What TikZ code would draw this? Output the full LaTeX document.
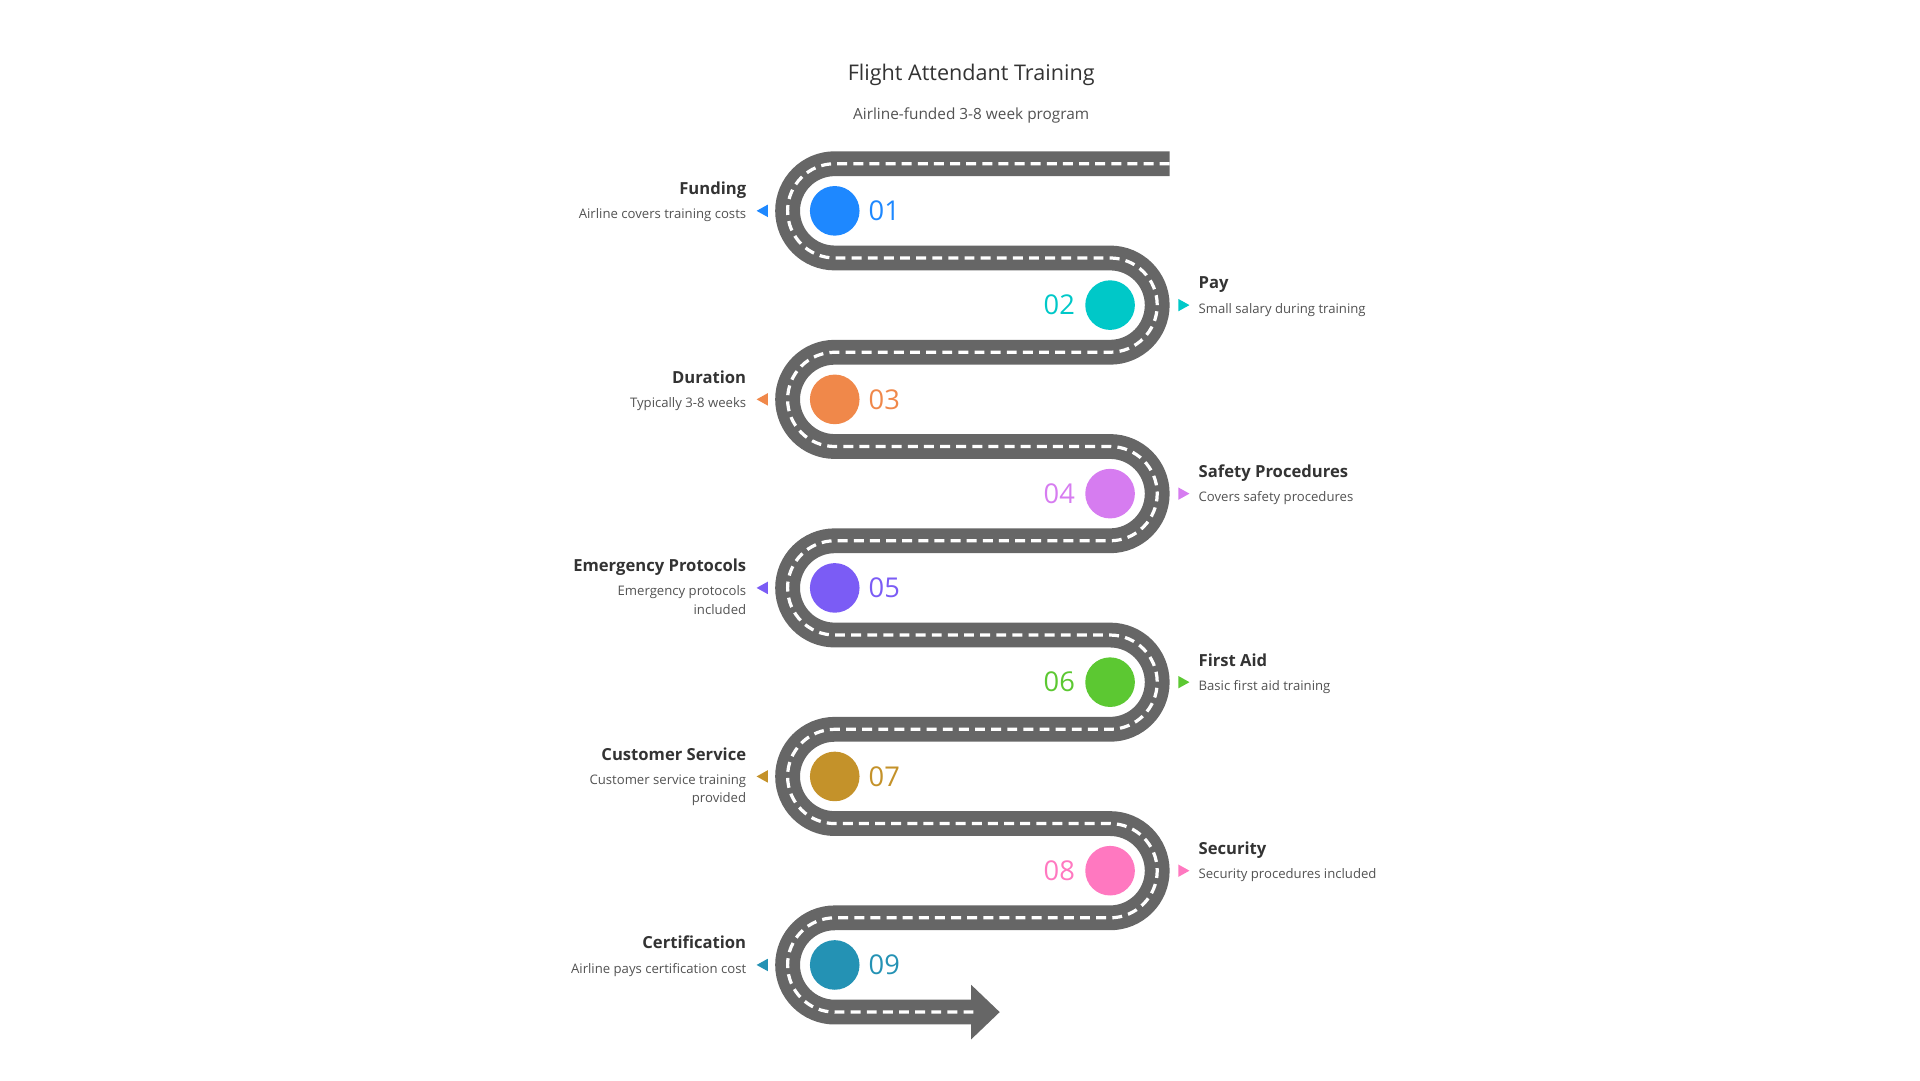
\documentclass[tikz,border=0pt]{standalone}
\usepackage{fontspec}
\setmainfont{Open Sans}
\usetikzlibrary{positioning}
\definecolor{road}{HTML}{666666}
\definecolor{txt}{HTML}{333333}
\definecolor{cA}{HTML}{1E88FF}
\definecolor{cB}{HTML}{00C8C8}
\definecolor{cC}{HTML}{F0884A}
\definecolor{cD}{HTML}{D67CF0}
\definecolor{cE}{HTML}{7B5CF5}
\definecolor{cF}{HTML}{5CC832}
\definecolor{cG}{HTML}{C4922A}
\definecolor{cH}{HTML}{FF78C0}
\definecolor{cI}{HTML}{2492B4}
\tikzset{stop/.style={circle, minimum size=20pt, inner sep=0pt, fill=#1}}
\tikzset{num/.style={text=#1, font=\fontsize{11}{12}\selectfont, inner sep=0pt}}
\tikzset{ttl/.style={font=\bfseries\fontsize{6.7}{8}\selectfont, text=txt, inner sep=0pt}}
\tikzset{dsc/.style={font=\fontsize{5.3}{7.6}\selectfont, text=txt!85, inner sep=0pt}}
\newcommand{\roadline}{(943,-132) -- (673,-132)
  \foreach \k in {1,...,4}{ arc[start angle=90, end angle=270, radius=38] -- ++(222,0)
  arc[start angle=90, end angle=-90, radius=38] -- ++(-222,0) }
  arc[start angle=90, end angle=270, radius=38]}

\begin{document}
\begin{tikzpicture}[x=0.5pt, y=0.5pt]
  \useasboundingbox (0,0) rectangle (1548,-871);
  \node[font=\fontsize{8.7}{11}\selectfont, text=txt] (title) at (783,-60) {Flight Attendant Training};
  \node[font=\fontsize{6.2}{8}\selectfont, text=txt!85] (sub) at (783,-93) {Airline-funded 3-8 week program};

  % road
  \draw[road, line width=10pt] \roadline -- (785,-816);
  \fill[road] (783,-794) -- (806,-816) -- (783,-838) -- cycle;
  \draw[white, line width=1.3pt, dash pattern=on 4pt off 2.5pt] \roadline -- (786,-816);

  % left stops
  \foreach \i/\col/\y/\ttl/\dsc in {01/cA/170/Funding/Airline covers training costs,
      03/cC/322/Duration/Typically 3-8 weeks,
      05/cE/474/Emergency Protocols/Emergency protocols\\included,
      07/cG/626/Customer Service/Customer service training\\provided,
      09/cI/778/Certification/Airline pays certification cost}{
    \node[stop=\col] (s\i) at (673,-\y) {};
    \node[num=\col, anchor=west] (n\i) at (700,-\y) {\i};
    \fill[\col] (610,-\y) -- (619,-\y+5) -- (619,-\y-5) -- cycle;
    \node[ttl, anchor=base east] (t\i) at (602,-\y+13) {\ttl};
    \node[dsc, anchor=north east, align=right] (d\i) at (602,-\y+2) {\dsc};
  }
  % right stops
  \foreach \i/\col/\y/\ttl/\dsc in {02/cB/246/Pay/Small salary during training,
      04/cD/398/Safety Procedures/Covers safety procedures,
      06/cF/550/First Aid/Basic first aid training,
      08/cH/702/Security/Security procedures included}{
    \node[stop=\col] (s\i) at (895,-\y) {};
    \node[num=\col, anchor=east] (n\i) at (867,-\y) {\i};
    \fill[\col] (959,-\y) -- (950,-\y+5) -- (950,-\y-5) -- cycle;
    \node[ttl, anchor=base west] (t\i) at (966,-\y+13) {\ttl};
    \node[dsc, anchor=north west, align=left] (d\i) at (966,-\y+2) {\dsc};
  }
\end{tikzpicture}
\end{document}
